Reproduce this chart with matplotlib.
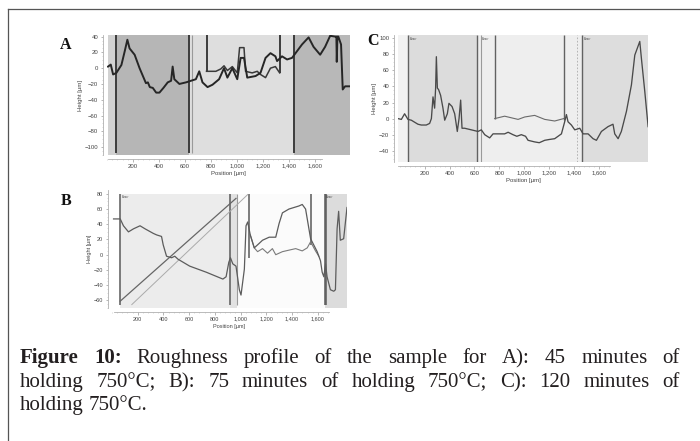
import matplotlib
matplotlib.use("Agg")
import matplotlib.pyplot as plt
from matplotlib.lines import Line2D

W, H = 700, 441

# x tick values / labels shared by all three profiles
x_ticks = [200, 400, 600, 800, 1000, 1200, 1400, 1600]
x_tick_labels = ["200", "400", "600", "800", "1,000", "1,200", "1,400", "1,600"]

# ---------------- A: 45 min ----------------
a_x = [8, 29, 47, 72, 111, 136, 157, 174, 213, 251, 282, 300, 315, 330, 353, 379, 404,
       435, 468, 494, 506, 519, 558, 609, 647, 685, 711, 736, 775, 813, 864, 902,
       928, 966, 1004, 1030, 1056, 1081, 1145, 1183, 1222, 1260, 1298, 1311, 1349,
       1388, 1426, 1503, 1554, 1592, 1643, 1681, 1720, 1758, 1768, 1771, 1776, 1783,
       1804, 1817, 1835, 1873]
a_y = [2, 4.5, -8, -6, 4, 21, 36, 25, 17, 0, -12, -19, -18, -24, -25, -31, -31,
       -25, -18, -16, 2, -14, -20, -18, -16, -14, -4, -18, -24, -21, -14, 0,
       -12, 0, -14, 13, 13, -12, -10, -6, 13, 19, 15, 9, 15,
       11, 13, 30, 39, 27, 17, 27, 41, 40, 40, 8, 40, 40,
       30, -27, -23, -23]
a2_x = [767, 839, 877, 902, 928, 966, 1004, 1022, 1056, 1068, 1119, 1158, 1183, 1222, 1260, 1298, 1331]
a2_y = [-4, -4, -1, 3, -3, 2, -6, 26, 26, -4, -6, -4, -8, -12, 0, 2, -6]
a_cursor_full = [72, 629, 1444]
a_cursor_light = [655]
a_cursor_part = [767, 1331]
a_cursor_part_low = [-4, -6]
a_regions = [(11, 72), (72, 629), (629, 1444), (1444, 1873)]
a_yticks = [-100, -80, -60, -40, -20, 0, 20, 40]

# ---------------- B: 75 min ----------------
b_x = [12, 64, 89, 128, 167, 218, 257, 321, 347, 385, 398, 424, 463, 488, 514, 604,
       733, 862, 887, 908, 921, 939, 964, 990, 1003, 1029, 1042, 1055, 1075, 1106,
       1145, 1170, 1222, 1273, 1299, 1325, 1376, 1453, 1479, 1505, 1531, 1544, 1556,
       1595, 1621, 1634, 1647, 1660, 1672, 1698, 1724, 1737, 1750, 1762, 1775, 1801, 1827]
b_y = [47, 47, 38, 30, 34, 38, 34, 28, 26, 24, 13, -2, -4, -2, -6, -15,
       -23, -32, -29, -10, -4, -12, -15, -46, -53, -19, 38, 43, 26, 9,
       15, 19, 23, 23, 41, 55, 60, 64, 66, 60, 34, 21, 17,
       4, -8, -23, -29, -12, -29, -46, -48, -46, 34, 57, 19, 21, 62]
b2_x = [1075, 1106, 1132, 1170, 1209, 1247, 1273, 1325, 1376, 1428, 1479, 1518, 1544, 1582, 1608]
b2_y = [26, 9, 4, 8, 2, 8, 0, 4, 6, 8, 5, 9, 17, 5, -2]
b_fit1_x = [64, 964]
b_fit1_y = [-61, 74]
b_fit2_x = [154, 1055]
b_fit2_y = [-65.5, 79]
b_cursor_full = [64, 921, 1654, 1667]
b_cursor_light = [972]
b_cursor_part = [1067, 1549]
b_cursor_part_low = [-4, 13]
b_regions = [(64, 921), (921, 972), (972, 1654), (1654, 1827)]
b_yticks = [-60, -40, -20, 0, 20, 40, 60, 80]

# ---------------- C: 120 min ----------------
c_x = [-14, 13, 39, 66, 93, 146, 173, 213, 240, 254, 267, 280, 288, 294, 302, 312,
       328, 347, 361, 382, 395, 420, 441, 462, 476, 489, 500, 521, 575, 628, 655,
       682, 722, 749, 789, 842, 870, 909, 940, 976, 1010, 1030, 1083, 1120, 1164,
       1200, 1244, 1298, 1324, 1338, 1351, 1378, 1405, 1445, 1472, 1512, 1552, 1579,
       1619, 1672, 1712, 1726, 1753, 1779, 1820, 1860, 1887, 1913, 1927, 1940, 1967, 1994]
c_y = [0, -1, 6, -1, -2, -7, -8, -8, -6, 0, 27, 13, 38, 77, 38, 36,
       29, 13, -2, 6, 19, 15, 6, -16, 0, 23, -12, -12, -14, -16, -14,
       -20, -24, -19, -19, -19, -17, -20, -22, -20, -22, -27, -29, -30, -27,
       -26, -25, -19, -4, 5, -4, -8, -14, -12, -19, -19, -25, -27,
       -16, -10, -7, -19, -25, -16, 9, 42, 79, 90, 96, 75, 34, -10]
c2_x = [762, 842, 896, 950, 1003, 1083, 1164, 1244, 1316]
c2_y = [0, 3, 1, -1, 2, 4, -1, -3, 0]
c_cursor_full = [66, 623, 1463]
c_cursor_light = [650]
c_cursor_dashed = [1423]
c_cursor_part = [762, 1316]
c_cursor_part_low = [0, -2]
c_regions = [(-14, 66), (66, 623), (623, 1463), (1463, 1994)]
c_yticks = [-40, -20, 0, 20, 40, 60, 80, 100]

fig = plt.figure(figsize=(W / 100, H / 100), dpi=100)


def px_axes(x0, y0, x1, y1):
    return fig.add_axes([x0 / W, 1 - y1 / H, (x1 - x0) / W, (y1 - y0) / H])


def style(ax, xlim, ylim, yticks, spine_end, tick_fs=4.3):
    ax.set_xlim(*xlim)
    ax.set_ylim(*ylim)
    ax.set_xticks(x_ticks)
    ax.set_xticklabels(x_tick_labels)
    ax.set_yticks(yticks)
    ax.set_xticks(range(0, int(spine_end), 40), minor=True)
    ax.set_yticks(range(int(yticks[0]) - 10, int(yticks[-1]) + 5, 5), minor=True)
    for s in ("top", "right"):
        ax.spines[s].set_visible(False)
    for s in ("left", "bottom"):
        ax.spines[s].set_position(("outward", 3))
        ax.spines[s].set_color("#b0b0b0")
        ax.spines[s].set_linewidth(0.6)
    ax.spines["bottom"].set_bounds(xlim[0], spine_end)
    ax.tick_params(which="major", length=1.8, width=0.5, color="#999999",
                   labelsize=tick_fs, labelcolor="#444444", pad=1.5)
    ax.tick_params(which="minor", length=1.0, width=0.4, color="#bbbbbb")
    for lab in ax.get_xticklabels() + ax.get_yticklabels():
        lab.set_family("Liberation Sans")
    ax.set_xlabel("Position [µm]", fontsize=tick_fs, color="#444444", labelpad=1.5,
                  family="Liberation Sans")
    ax.set_ylabel("Height [µm]", fontsize=tick_fs, color="#444444", labelpad=1.5,
                  family="Liberation Sans")
    ax.set_facecolor("white")


def cursors(ax, full, light, part, part_low, ylim, dark="#4a4a4a", lw=1.2, top=None):
    top = ylim[1] if top is None else top
    ax.vlines(full, ylim[0], top, color=dark, lw=lw, zorder=3)
    ax.vlines(light, ylim[0], top, color="#9a9a9a", lw=0.8, zorder=3)
    ax.vlines(part, part_low, top, color=dark, lw=lw, zorder=3)


# ---- A ----
axA = px_axes(107, 35, 350, 155)
a_lim = ((11, 1873), (-108, 42))
for (x0, x1), col in zip(a_regions, ["#d2d2d2", "#b6b6b6", "#dedede", "#b8b8b8"]):
    axA.axvspan(x0, x1, color=col, lw=0, zorder=0)
cursors(axA, a_cursor_full, a_cursor_light, a_cursor_part, a_cursor_part_low, a_lim[1],
        dark="#3c3c3c", lw=1.4)
axA.plot(a2_x, a2_y, color="#3a3a3a", lw=1.1, zorder=4)
axA.plot(a_x, a_y, color="#262626", lw=1.4, zorder=5)
style(axA, *a_lim, a_yticks, 1660)

# ---- B ----
axB = px_axes(112, 190, 347, 308)
b_lim = ((17, 1827), (-65.5, 85))
frac = (80 - b_lim[1][0]) / (b_lim[1][1] - b_lim[1][0])
for (x0, x1), col in zip(b_regions, ["#ececec", "#e2e2e2", "#fbfbfb", "#dcdcdc"]):
    axB.axvspan(x0, x1, ymax=frac, color=col, lw=0, zorder=0)
cursors(axB, b_cursor_full, b_cursor_light, b_cursor_part, b_cursor_part_low, b_lim[1],
        dark="#5a5a5a", lw=1.1, top=80)
axB.plot(b_fit2_x, b_fit2_y, color="#aaaaaa", lw=0.7, zorder=4)
axB.plot(b_fit1_x, b_fit1_y, color="#666666", lw=0.9, zorder=4)
axB.plot(b2_x, b2_y, color="#7a7a7a", lw=0.8, zorder=4)
axB.plot(b_x, b_y, color="#5c5c5c", lw=0.9, zorder=5)
for xc in [64, 1654]:
    axB.text(xc + 10, 79, "Cursor", fontsize=1.8, color="#333333", va="top",
             family="Liberation Sans", zorder=6)
style(axB, *b_lim, b_yticks, 1685, tick_fs=4.0)

# ---- C ----
axC = px_axes(398, 35, 648, 162)
c_lim = ((-14, 1993), (-54, 104))
for (x0, x1), col in zip(c_regions, ["#f2f2f2", "#dcdcdc", "#eeeeee", "#dddddd"]):
    axC.axvspan(x0, x1, color=col, lw=0, zorder=0)
cursors(axC, c_cursor_full, c_cursor_light, c_cursor_part, c_cursor_part_low, c_lim[1],
        dark="#626262", lw=1.0)
axC.vlines(c_cursor_dashed, c_lim[1][0], c_lim[1][1], color="#aaaaaa", lw=0.6,
           linestyles=(0, (2, 2)), zorder=3)
axC.plot(c2_x, c2_y, color="#6a6a6a", lw=0.8, zorder=4)
axC.plot(c_x, c_y, color="#4a4a4a", lw=0.95, zorder=5)
for xc in [66, 650, 1463]:
    axC.text(xc + 12, 102, "Cursor", fontsize=1.8, color="#333333", va="top",
             family="Liberation Sans", zorder=6)
style(axC, *c_lim, c_yticks, 1686)

# panel letters
for lab, (px, py) in zip(["A", "B", "C"], [(66, 45), (66, 201), (373, 41)]):
    fig.text(px / W, 1 - py / H, lab, fontsize=11.5, fontweight="bold",
             family="Liberation Serif", ha="center", va="center", color="#111111")

# frame around the figure (right and bottom run off the page)
fig.add_artist(Line2D([8 / W, 1.0], [1 - 9 / H, 1 - 9 / H], transform=fig.transFigure,
                      color="#555555", lw=0.9))
fig.add_artist(Line2D([8 / W, 8 / W], [1 - 9 / H, 0], transform=fig.transFigure,
                      color="#555555", lw=0.9))

# caption, justified like the journal page
caption_lines = [
    [("Figure", True), ("10:", True), ("Roughness", False), ("profile", False),
     ("of", False), ("the", False), ("sample", False), ("for", False), ("A):", False),
     ("45", False), ("minutes", False), ("of", False)],
    [(w, False) for w in "holding 750°C; B): 75 minutes of holding 750°C; C): 120 minutes of".split()],
    [(w, False) for w in "holding 750°C.".split()],
]
baselines = [363, 387, 410]
renderer = fig.canvas.get_renderer()
for i, (words, yb) in enumerate(zip(caption_lines, baselines)):
    arts = [fig.text(0, 1 - yb / H, w, fontsize=15, family="Liberation Serif",
                     fontweight="bold" if b else "normal", va="baseline", ha="left",
                     color="#231f20") for w, b in words]
    widths = [t.get_window_extent(renderer).width for t in arts]
    if i < 2:
        gap = (680 - 20 - sum(widths)) / (len(arts) - 1)
    else:
        gap = 5.0
    x = 20
    for t, w in zip(arts, widths):
        t.set_x(x / W)
        x += w + gap

fig.savefig("out.png", dpi=100)
